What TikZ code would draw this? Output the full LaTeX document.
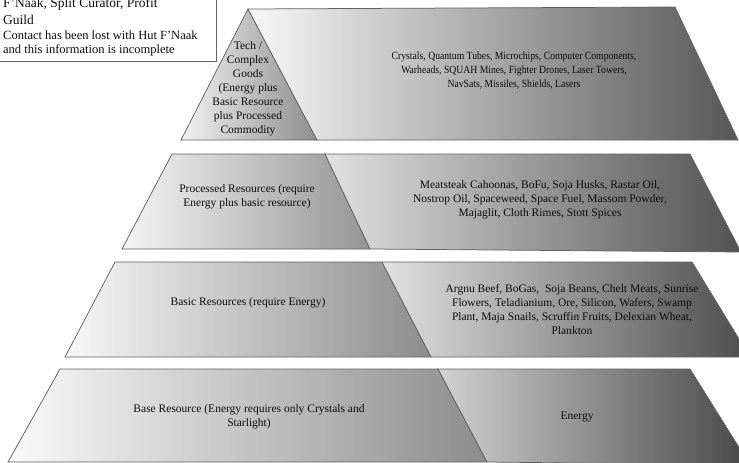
\documentclass[tikz,border=0pt]{standalone}
\usepackage{fontspec}
\setmainfont{Liberation Serif}
\newfontfamily\condserif[FakeStretch=0.88]{Liberation Serif}
\begin{document}
\begin{tikzpicture}[x=1pt,y=-1pt,
  piece/.style={draw=black!62, line width=0.75pt},
  lbl/.style={font=\fontsize{11.5}{14}\selectfont, align=center, inner sep=0pt, text=black!95},
  notetxt/.style={anchor=base west, inner sep=0pt, text=black!95}]
\useasboundingbox (0,0) rectangle (739,463);
\begin{scope}
\clip (0,0) rectangle (739,463);
% note box
\draw[draw=black!60, line width=0.7pt, fill=white] (-5,-5) rectangle (216,61);
% tier 1
\shade[piece, left color=white!95!black, right color=black!45] (181,140) -- (248,9) -- (317,140) -- cycle;
\shade[piece, left color=white!97!black, right color=black!66] (248,9) -- (675,7) -- (738,140) -- (317,140) -- cycle;
% tier 2
\shade[piece, left color=white!96!black, right color=black!42] (172,154) -- (325,154) -- (370,249) -- (122,249) -- cycle;
\shade[piece, left color=white!88!black, right color=black!68] (325,154) -- (690,154) -- (741,252) -- (370,249) -- cycle;
% tier 3
\shade[piece, left color=white!97!black, right color=black!45] (115,262) -- (382,262) -- (431,357) -- (65,357) -- cycle;
\shade[piece, left color=white!88!black, right color=black!70] (382,262) -- (692,262) -- (750,357) -- (431,357) -- cycle;
% tier 4
\shade[piece, left color=white!98!black, right color=black!45] (60,369) -- (438,369) -- (487,462) -- (8,462) -- cycle;
\shade[piece, left color=white!82!black, right color=black!72] (438,369) -- (690,369) -- (750,465) -- (487,462) -- cycle;
\end{scope}
% note text
\node[notetxt, font=\fontsize{13.5}{16}\selectfont] (n1) at (3,7) {F’Naak, Split Curator, Profit};
\node[notetxt, font=\fontsize{13.5}{16}\selectfont] (n2) at (3,24) {Guild};
\node[notetxt, font=\fontsize{12.5}{14}\selectfont] (n3) at (3,39) {Contact has been lost with Hut F’Naak};
\node[notetxt, font=\fontsize{12.5}{14}\selectfont] (n4) at (3,53) {and this information is incomplete};
% labels
\node[lbl] (t1l) at (248,89) {Tech /\\Complex\\Goods\\(Energy plus\\Basic Resource\\plus Processed\\Commodity};
\node[lbl, font=\condserif\fontsize{11}{14}\selectfont] (t1r) at (514,71) {Crystals, Quantum Tubes, Microchips, Computer Components,\\Warheads, SQUAH Mines, Fighter Drones, Laser Towers,\\NavSats, Missiles, Shields, Lasers};
\node[lbl] (t2l) at (247,197) {Processed Resources (require\\Energy plus basic resource)};
\node[lbl] (t2r) at (540,200) {Meatsteak Cahoonas, BoFu, Soja Husks, Rastar Oil,\\Nostrop Oil, Spaceweed, Space Fuel, Massom Powder,\\Majaglit, Cloth Rimes, Stott Spices};
\node[lbl] (t3l) at (248,303) {Basic Resources (require Energy)};
\node[lbl] (t3r) at (572,310) {Argnu Beef, BoGas,\ \ Soja Beans, Chelt Meats, Sunrise\\Flowers, Teladianium, Ore, Silicon, Wafers, Swamp\\Plant, Maja Snails, Scruffin Fruits, Delexian Wheat,\\Plankton};
\node[lbl] (t4l) at (249,417) {Base Resource (Energy requires only Crystals and\\Starlight)};
\node[lbl] (t4r) at (577,417) {Energy};
\end{tikzpicture}
\end{document}
